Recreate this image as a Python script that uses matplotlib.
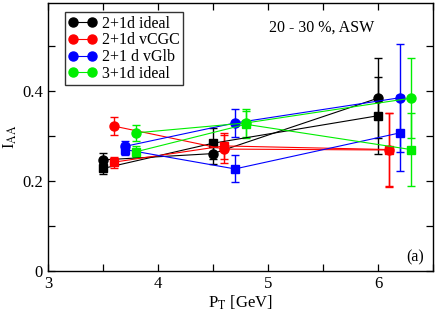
import matplotlib
matplotlib.use("Agg")
import matplotlib.pyplot as plt
from matplotlib.ticker import MultipleLocator

plt.rcParams['font.family'] = ['Liberation Serif', 'DejaVu Serif']
plt.rcParams['mathtext.fontset'] = 'stix'

# pT positions (shifted a little per model, as in the original)
pt_ideal = [3.5, 4.5, 6.0]
pt_vcgc = [3.6, 4.6, 6.1]
pt_vglb = [3.7, 4.7, 6.2]
pt_3d = [3.8, 4.8, 6.3]

# circles and squares for each model, with errors
ideal_c = [0.247, 0.261, 0.384]
ideal_c_err = [0.015, 0.022, 0.089]
ideal_s = [0.228, 0.284, 0.345]
ideal_s_err = [0.012, 0.034, 0.085]

vcgc_c = [0.322, 0.271, 0.269]
vcgc_c_err = [0.020, 0.031, 0.082]
vcgc_s = [0.242, 0.278, 0.270]
vcgc_s_err = [0.012, 0.028, 0.082]

vglb_c = [0.277, 0.329, 0.385]
vglb_c_err = [0.012, 0.031, 0.120]
vglb_s = [0.270, 0.227, 0.307]
vglb_s_err = [0.012, 0.030, 0.085]

d3_c = [0.307, 0.329, 0.384]
d3_c_err = [0.017, 0.032, 0.089]
d3_s = [0.265, 0.326, 0.270]
d3_s_err = [0.012, 0.030, 0.082]

labels = ["2+1d ideal", "2+1d vCGC", "2+1 d vGlb", "3+1d ideal"]
colors = ["black", "red", "blue", "#00ee00"]

fig, ax = plt.subplots(figsize=(4.36, 3.11), dpi=100)
fig.subplots_adjust(left=0.11, right=0.993, top=0.99, bottom=0.128)

series = [
    (pt_ideal, ideal_c, ideal_c_err, ideal_s, ideal_s_err),
    (pt_vcgc, vcgc_c, vcgc_c_err, vcgc_s, vcgc_s_err),
    (pt_vglb, vglb_c, vglb_c_err, vglb_s, vglb_s_err),
    (pt_3d, d3_c, d3_c_err, d3_s, d3_s_err),
]

for (x, yc, ec, ys, es), lab, col in zip(series, labels, colors):
    ax.errorbar(x, ys, yerr=es, color=col, marker='s', ms=5.5, lw=0.8,
                elinewidth=1.0, capsize=3, capthick=1.0)
    ax.errorbar(x, yc, yerr=ec, color=col, marker='o', ms=6.5, lw=0.8,
                elinewidth=1.0, capsize=3, capthick=1.0)
    ax.plot([], [], color=col, marker='o', ms=6.5, lw=0.8, label=lab)

ax.set_xlim(3, 6.5)
ax.set_ylim(0, 0.595)
ax.xaxis.set_major_locator(MultipleLocator(1))
ax.xaxis.set_minor_locator(MultipleLocator(0.5))
ax.yaxis.set_major_locator(MultipleLocator(0.2))
ax.yaxis.set_minor_locator(MultipleLocator(0.1))
ax.set_xticks([3, 4, 5, 6])
ax.set_xticklabels(["3", "4", "5", "6"])
ax.set_yticks([0, 0.2, 0.4])
ax.set_yticklabels(["0", "0.2", "0.4"])
ax.tick_params(which='both', direction='in', top=True, right=True,
               labelsize=12, width=0.9)
ax.tick_params(which='major', length=5)
ax.tick_params(which='minor', length=5)
for sp in ax.spines.values():
    sp.set_linewidth(1.0)

ax.set_xlabel(r"P$_\mathrm{T}$ [GeV]", fontsize=12, labelpad=1)
ax.set_ylabel(r"I$_\mathrm{AA}$", fontsize=12, labelpad=2)

ax.text(5.49, 0.54, "20 - 30 %, ASW", fontsize=11.5, ha='center', va='center')
ax.text(6.42, 0.03, "(a)", fontsize=11.5, ha='right', va='center')

leg = ax.legend(loc='upper left', bbox_to_anchor=(0.045, 0.965), numpoints=2,
                fontsize=11.5, frameon=True, fancybox=False, borderpad=0.2,
                labelspacing=0.05, handlelength=1.8, handletextpad=0.3,
                borderaxespad=0)
leg.get_frame().set_edgecolor('black')
leg.get_frame().set_linewidth(1.0)

fig.savefig("out.png", dpi=100)
